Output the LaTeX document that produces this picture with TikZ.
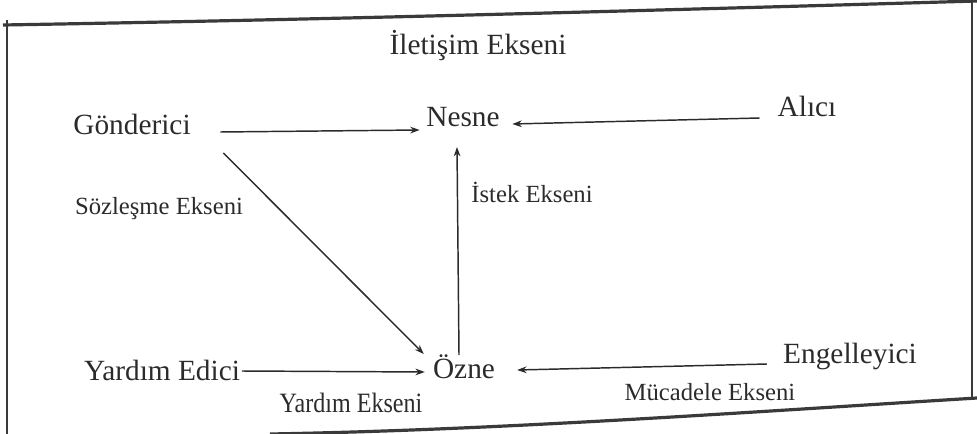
\documentclass[tikz,border=0pt]{standalone}
\usepackage{fontspec}
\setmainfont{Liberation Serif}
\newfontfamily\narrowserif[FakeStretch=0.86]{Liberation Serif}
\usetikzlibrary{arrows.meta}
\definecolor{ink}{HTML}{2B2B2B}
\definecolor{frame}{HTML}{3A3A3A}
\tikzset{
  big/.style={anchor=base, inner sep=0pt, text=ink, font=\fontsize{22}{24}\selectfont},
  small/.style={anchor=base, inner sep=0pt, text=ink, font=\fontsize{18.5}{20}\selectfont},
  narrow/.style={anchor=base, inner sep=0pt, text=ink, font=\narrowserif\fontsize{21}{23}\selectfont},
  arr/.style={draw=ink, line width=1.1pt, -{Stealth[length=7pt,width=5pt]}},
  border/.style={draw=frame, line width=1pt},
  thick border/.style={draw=frame, line width=2.4pt},
}
\begin{document}
\begin{tikzpicture}[x=0.75pt,y=-0.75pt]
\useasboundingbox (0,0) rectangle (977,434);
% frame
\draw[thick border] (3,25) .. controls (300,20) and (600,12) .. (977,1);
\draw[thick border] (270,434) .. controls (500,430) and (750,412) .. (977,398);
\draw[border] (7,20) -- (7,434);
\draw[border] (972,0) -- (972,400);
% nodes
\node[big] (T) at (478,55) {İletişim Ekseni};
\node[big] (G) at (132,135) {Gönderici};
\node[big] (N) at (463,127) {Nesne};
\node[big] (A) at (807,117) {Alıcı};
\node[small] (SE) at (159,215) {Sözleşme Ekseni};
\node[small] (IE) at (532,203) {İstek Ekseni};
\node[big] (YE) at (162,380) {Yardım Edici};
\node[big] (O) at (464,378) {Özne};
\node[big] (E) at (850,363) {Engelleyici};
\node[narrow] (YA) at (351,412) {Yardım Ekseni};
\node[small] (ME) at (710,400) {Mücadele Ekseni};
% connectors
\draw[arr] ([shift={(29.5,-3)}]G.base east) -- ([shift={(-6.5,3)}]N.base west);
\draw[arr] ([shift={(-17.7,1)}]A.base west) -- ([shift={(12.5,-3)}]N.base east);
\draw[arr] ([shift={(32.5,18)}]G.base east) -- ([shift={(-9,-24)}]O.base west);
\draw[arr] ([shift={(-5,-23)}]O.base) -- ([shift={(-6,20)}]N.base);
\draw[arr] ([shift={(1.6,-9)}]YE.base east) -- ([shift={(-8,-6)}]O.base west);
\draw[arr] ([shift={(-16,1)}]E.base west) -- ([shift={(22,-8)}]O.base east);
\end{tikzpicture}
\end{document}
